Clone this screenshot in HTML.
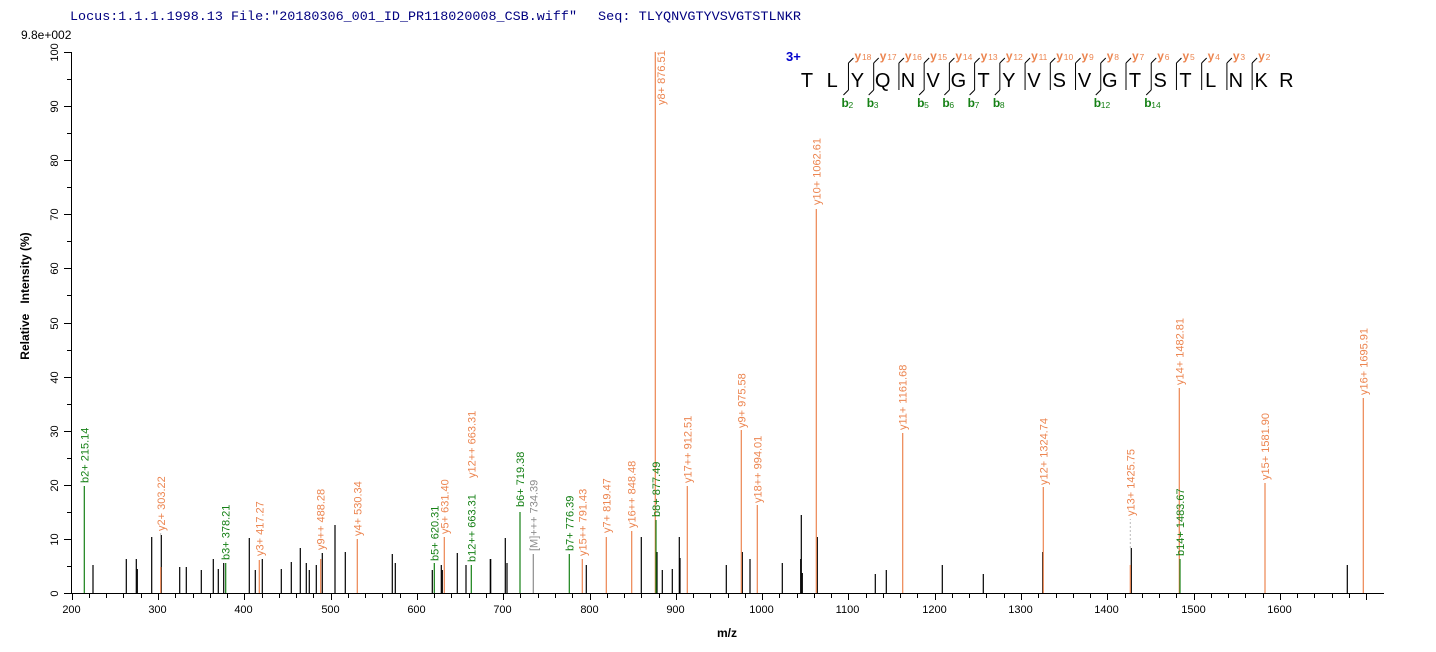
<!DOCTYPE html>
<html><head><meta charset="utf-8"><style>
html,body{margin:0;padding:0;background:#fff;}
svg{display:block;font-family:"Liberation Sans",Arial,sans-serif;}
</style></head><body>
<svg id="s" width="1436" height="652" viewBox="0 0 1436 652" xmlns="http://www.w3.org/2000/svg">
<rect width="1436" height="652" fill="#fff"/>
<text x="70" y="20" font-family="Liberation Mono, monospace" font-size="12.5" fill="#000080" textLength="507" lengthAdjust="spacingAndGlyphs">Locus:1.1.1.1998.13 File:"20180306_001_ID_PR118020008_CSB.wiff"</text>
<text x="598" y="20" font-family="Liberation Mono, monospace" font-size="12.5" fill="#000080" textLength="203" lengthAdjust="spacingAndGlyphs">Seq: TLYQNVGTYVSVGTSTLNKR</text>
<text x="21" y="39" font-size="12" fill="#000">9.8e+002</text>
<text transform="translate(29,296) rotate(-90)" font-size="12" font-weight="bold" text-anchor="middle" fill="#000" xml:space="preserve">Relative   Intensity (%)</text>
<text x="727" y="637" font-size="12" font-weight="bold" text-anchor="middle">m/z</text>
<g id="g"></g>
</svg>
<script>
const g=document.getElementById('g');const NS='http://www.w3.org/2000/svg';
function el(t,a,txt){const e=document.createElementNS(NS,t);for(const k in a)e.setAttribute(k,a[k]);if(txt!==undefined)e.textContent=txt;g.appendChild(e);return e;}
const X0=71.7,S=0.863,Y0=593,YS=5.41;
const OR='#ec8550',GR='#158015',GY='#8c8c8c';
el('line',{x1:71.5,y1:52,x2:71.5,y2:593.5,stroke:'#000','stroke-width':1});
el('line',{x1:71,y1:593.5,x2:1384,y2:593.5,stroke:'#000','stroke-width':1});
for(let p=0;p<=100;p+=5){const y=Math.round(Y0-p*YS)+0.5;const maj=p%10==0;
 el('line',{x1:maj?64:67,y1:y,x2:71,y2:y,stroke:'#000'});
 if(maj) el('text',{transform:`translate(58,${y}) rotate(-90)`,'font-size':11,'text-anchor':'middle'},String(p));}
for(let m=200;m<=1700;m+=20){const x=Math.round(X0+(m-200)*S)+0.5;if(x>1384)break;const maj=m%100==0;
 el('line',{x1:x,y1:593,x2:x,y2:maj?600:598,stroke:'#000'});
 if(maj&&m<=1600) el('text',{x:x-1,y:613,'font-size':11,'text-anchor':'middle'},String(m));}
const B=[[93,565],[126.3,559],[136.3,559],[137.3,569],[151.7,537],[161.3,535],[179.7,567],[186.3,567],[201.3,570],[213.3,559],[218.3,569],[223.7,563],[249.3,538],[255.3,570],[262.3,559],[281.3,569],[291.3,562],[300.3,548],[306.3,563],[309.3,570],[316.3,565],[322.3,553],[335,525],[345.3,552],[392.3,554],[395.3,563],[432.3,570],[441.3,565],[442.3,570],[457.3,553],[466,565],[490.3,559],[490.7,559],[505.3,538],[507,563],[586.3,565],[641.3,537],[657,552],[662.3,570],[672.3,569],[679.3,537],[680,558],[726.3,565],[742.3,552],[750,559],[782.3,563],[800.7,559],[801.3,515],[802.3,573],[817.3,537],[875.3,574],[886.3,570],[942.3,565],[983.3,574],[1042.7,552],[1131.3,548],[1347.3,565]];
B.forEach(([x,t])=>el('line',{x1:x,y1:t,x2:x,y2:593,stroke:'#000','stroke-width':1.2}));
const C=[[84.3,486,GR],[160.7,567,OR],[225.7,563,GR],[259.3,560,OR],[320.7,559,OR],[357.3,539,OR],[434.3,563,GR],[444.3,537,OR],[471.3,565,GR],[520,512,GR],[533.3,554,GY],[569.3,554,GR],[582.3,559,OR],[606.3,537,OR],[631.7,531,OR],[655.3,52,OR],[656,520,GR],[687.3,486,OR],[741.3,430,OR],[757.3,505,OR],[816.3,209,OR],[902.7,433,OR],[1043.3,487,OR],[1130.3,565,OR],[1179.3,388,OR],[1180,559,GR],[1265,483,OR],[1363.3,398,OR]];
C.forEach(([x,t,c])=>el('line',{x1:x,y1:t,x2:x,y2:593,stroke:c,'stroke-width':1.2}));
el('line',{x1:1130.3,y1:548,x2:1130.3,y2:519,stroke:'#bbb','stroke-dasharray':'2,2'});
el('line',{x1:160.7,y1:535,x2:160.7,y2:533,stroke:'#bbb'});
const L=[[84.3,483,'b2+ 215.14',GR],[161,531,'y2+ 303.22',OR],[225.7,560,'b3+ 378.21',GR],[259.3,556,'y3+ 417.27',OR],[320.7,550,'y9++ 488.28',OR],[357.3,536,'y4+ 530.34',OR],[434.3,561,'b5+ 620.31',GR],[444.3,534,'y5+ 631.40',OR],[471.3,562,'b12++ 663.31',GR],[471.3,478,'y12++ 663.31',OR],[520,507,'b6+ 719.38',GR],[533.3,551,'[M]+++ 734.39',GY],[569.3,551,'b7+ 776.39',GR],[582.3,556,'y15++ 791.43',OR],[606.3,533,'y7+ 819.47',OR],[631.7,528,'y16++ 848.48',OR],[656,517,'b8+ 877.49',GR],[661,105,'y8+ 876.51',OR],[687.3,483,'y17++ 912.51',OR],[741.3,428,'y9+ 975.58',OR],[757.3,503,'y18++ 994.01',OR],[816.3,205,'y10+ 1062.61',OR],[902.7,430,'y11+ 1161.68',OR],[1043.3,485,'y12+ 1324.74',OR],[1130.3,516,'y13+ 1425.75',OR],[1179.3,385,'y14+ 1482.81',OR],[1180,556,'b14+ 1483.67',GR],[1265,480,'y15+ 1581.90',OR],[1363.3,395,'y16+ 1695.91',OR]];
L.forEach(([x,y,t,c])=>el('text',{transform:`translate(${x+4},${y}) rotate(-90)`,'font-size':11,fill:c},t));
el('text',{x:786,y:61,'font-size':13,'font-weight':'bold',fill:'#0000cc'},'3+');
const seq='TLYQNVGTYVSVGTSTLNKR';const lx=i=>807+i*25.23;
for(let i=0;i<20;i++) el('text',{x:lx(i),y:87,'font-size':20,'text-anchor':'middle'},seq[i]);
const bset={2:1,3:1,5:1,6:1,7:1,8:1,12:1,14:1};
for(let i=2;i<=18;i++){const sx=lx(i)-9;
 el('line',{x1:sx,y1:63,x2:sx,y2:90,stroke:'#000'});
 el('line',{x1:sx,y1:63,x2:sx+5,y2:58,stroke:'#000'});
 el('text',{x:sx+6,y:60,'font-size':12,'font-weight':'bold',fill:OR},'y');
 el('text',{x:sx+13.5,y:60,'font-size':8.5,fill:OR},String(20-i));
 if(bset[i]){el('line',{x1:sx,y1:90,x2:sx-5,y2:95,stroke:'#000'});
  el('text',{x:sx-7,y:107,'font-size':12,'font-weight':'bold',fill:GR},'b');
  el('text',{x:sx,y:108,'font-size':8.5,fill:GR},String(i));}}
</script>
</body></html>
